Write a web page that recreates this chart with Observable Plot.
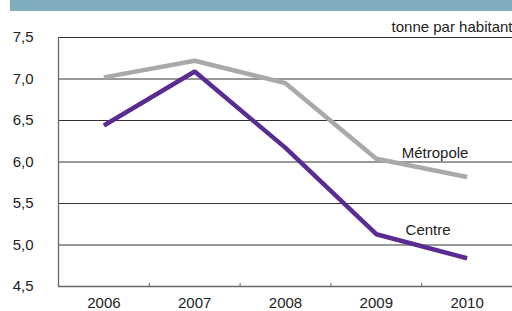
<!DOCTYPE html>
<html>
<head>
<meta charset="utf-8">
<script src="https://cdn.jsdelivr.net/npm/d3@7"></script>
<script src="https://cdn.jsdelivr.net/npm/@observablehq/plot@0.6"></script>
<style>
  html, body { margin: 0; padding: 0; background: #fff; }
  #wrap { position: relative; width: 512px; height: 311px; overflow: hidden; font-family: "Liberation Sans", Arial, sans-serif; }
  #bar { position: absolute; left: 10px; top: 0; width: 502px; height: 11px; background: #80adbd; }
</style>
</head>
<body>
<div id="wrap"><div id="bar"></div></div>
<script>
const years = [2006, 2007, 2008, 2009, 2010];
const metropole = [7.02, 7.22, 6.95, 6.04, 5.82];
const centre = [6.44, 7.09, 6.17, 5.13, 4.84];
const seriesNames = ["Métropole", "Centre"];
const yTicks = [4.5, 5.0, 5.5, 6.0, 6.5, 7.0, 7.5];
const xBounds = [2005.5, 2006.5, 2007.5, 2008.5, 2009.5, 2010.5];
const unitLabel = "tonne par habitant";

const data = [
  ...years.map((y, i) => ({year: y, value: metropole[i], serie: seriesNames[0]})),
  ...years.map((y, i) => ({year: y, value: centre[i], serie: seriesNames[1]}))
];
const last = data.filter(d => d.year === years[years.length - 1]);
const colors = {"Métropole": "#a9a9ac", "Centre": "#5a2c91"};
const fmt = d => d.toFixed(1).replace(".", ",");
const FS = 15;

const chart = Plot.plot({
  width: 512,
  height: 311,
  marginLeft: 58,
  marginRight: 0,
  marginTop: 37,
  marginBottom: 25,
  style: {fontFamily: "'Liberation Sans', Arial, sans-serif", fontSize: FS + "px", color: "#222", background: "transparent"},
  x: {domain: [xBounds[0], xBounds[xBounds.length - 1]]},
  y: {domain: [yTicks[0], yTicks[yTicks.length - 1]]},
  marks: [
    Plot.ruleY(yTicks, {stroke: "#333", strokeWidth: 1}),
    Plot.ruleX([xBounds[0]], {stroke: "#666", strokeWidth: 1.3}),
    Plot.ruleY([yTicks[0]], {stroke: "#666", strokeWidth: 1.3}),
    Plot.axisX({ticks: xBounds, tickSize: -3, tickFormat: () => "", stroke: "#666", label: null}),
    Plot.axisX({ticks: years, tickSize: 0, tickPadding: 11, tickFormat: d => String(d), fill: "#222", fontSize: FS, label: null}),
    Plot.axisY({ticks: yTicks, tickSize: 0, tickPadding: 25, tickFormat: fmt, fill: "#222", fontSize: FS, label: null}),
    Plot.line(data, {x: "year", y: "value", z: "serie", stroke: d => colors[d.serie], strokeWidth: 4.5, strokeLinejoin: "miter", strokeLinecap: "butt"}),
    Plot.text(last.filter(d => d.serie === seriesNames[0]), {x: "year", y: "value", text: "serie", dx: -32, dy: -24, fill: "#222", fontSize: FS}),
    Plot.text(last.filter(d => d.serie === seriesNames[1]), {x: "year", y: "value", text: "serie", dx: -39, dy: -28, fill: "#222", fontSize: FS}),
    Plot.text([unitLabel], {frameAnchor: "top-right", text: d => d, textAnchor: "end", dy: -16, fill: "#222", fontSize: FS})
  ]
});
chart.style.position = "absolute";
chart.style.left = "0";
chart.style.top = "0";
document.getElementById("wrap").appendChild(chart);
</script>
</body>
</html>
